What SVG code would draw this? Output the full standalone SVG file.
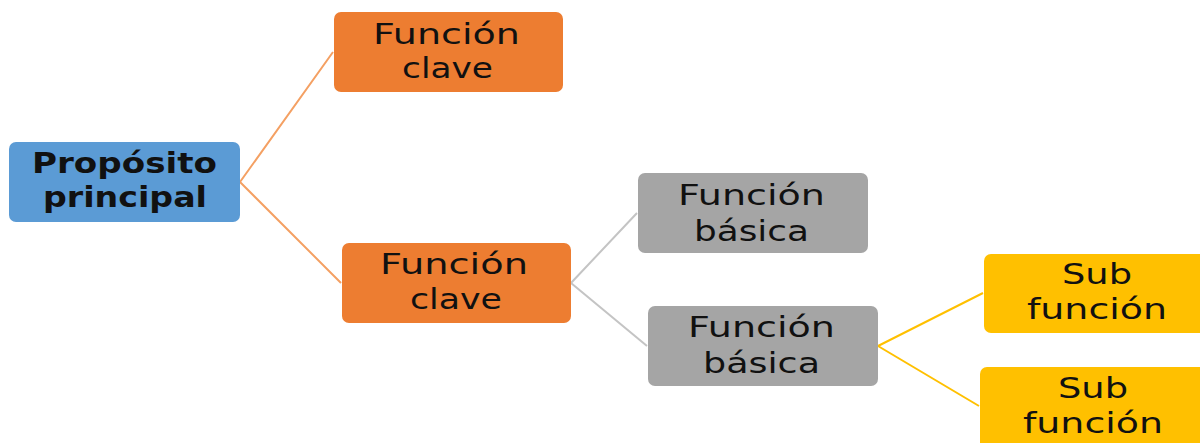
<svg xmlns="http://www.w3.org/2000/svg" width="1200" height="443" viewBox="0 0 1200 443">
<style>
text{font-family:"DejaVu Sans","Open Sans",sans-serif;font-size:28px;fill:#111;text-anchor:middle}
.b{font-weight:bold}
.blue{fill:#5B9BD5}
.orange{fill:#ED7D31}
.gray{fill:#A5A5A5}
.yellow{fill:#FFC000}
.c{fill:none;stroke-width:2}
</style>
<rect width="1200" height="443" fill="#fff"/>
<g id="connectors">
<path class="c" stroke="#F4A063" d="M240 182 L333 52 M240 182 L341 283"/>
<path class="c" stroke="#C4C4C4" d="M571 283 L637 213 M571 283 L647 346"/>
<path class="c" stroke="#FFC000" d="M878 346 L983 293 M878 346 L979 406"/>
</g>
<g id="n1">
<rect class="blue" x="9" y="142" width="231" height="80" rx="7"/>
<text class="b" x="124.5" y="173" textLength="185" lengthAdjust="spacingAndGlyphs">Propósito</text>
<text class="b" x="125" y="207" textLength="164" lengthAdjust="spacingAndGlyphs">principal</text>
</g>
<g id="n2">
<rect class="orange" x="334" y="12" width="229" height="80" rx="7"/>
<text x="446.5" y="44" textLength="147" lengthAdjust="spacingAndGlyphs">Función</text>
<text x="447.5" y="78" textLength="91" lengthAdjust="spacingAndGlyphs">clave</text>
</g>
<g id="n3">
<rect class="orange" x="342" y="243" width="229" height="80" rx="7"/>
<text x="454" y="274" textLength="148" lengthAdjust="spacingAndGlyphs">Función</text>
<text x="456" y="309" textLength="92" lengthAdjust="spacingAndGlyphs">clave</text>
</g>
<g id="n4">
<rect class="gray" x="638" y="173" width="230" height="80" rx="7"/>
<text x="751.5" y="205" textLength="147" lengthAdjust="spacingAndGlyphs">Función</text>
<text x="751.5" y="241" textLength="115" lengthAdjust="spacingAndGlyphs">básica</text>
</g>
<g id="n5">
<rect class="gray" x="648" y="306" width="230" height="80" rx="7"/>
<text x="761.5" y="337" textLength="147" lengthAdjust="spacingAndGlyphs">Función</text>
<text x="761.5" y="373" textLength="117" lengthAdjust="spacingAndGlyphs">básica</text>
</g>
<g id="n6">
<rect class="yellow" x="984" y="254" width="230" height="79" rx="7"/>
<text x="1097" y="284" textLength="70" lengthAdjust="spacingAndGlyphs">Sub</text>
<text x="1097" y="319" textLength="140" lengthAdjust="spacingAndGlyphs">función</text>
</g>
<g id="n7">
<rect class="yellow" x="980" y="367" width="230" height="90" rx="7"/>
<text x="1093" y="398" textLength="70" lengthAdjust="spacingAndGlyphs">Sub</text>
<text x="1093" y="433" textLength="140" lengthAdjust="spacingAndGlyphs">función</text>
</g>
</svg>
